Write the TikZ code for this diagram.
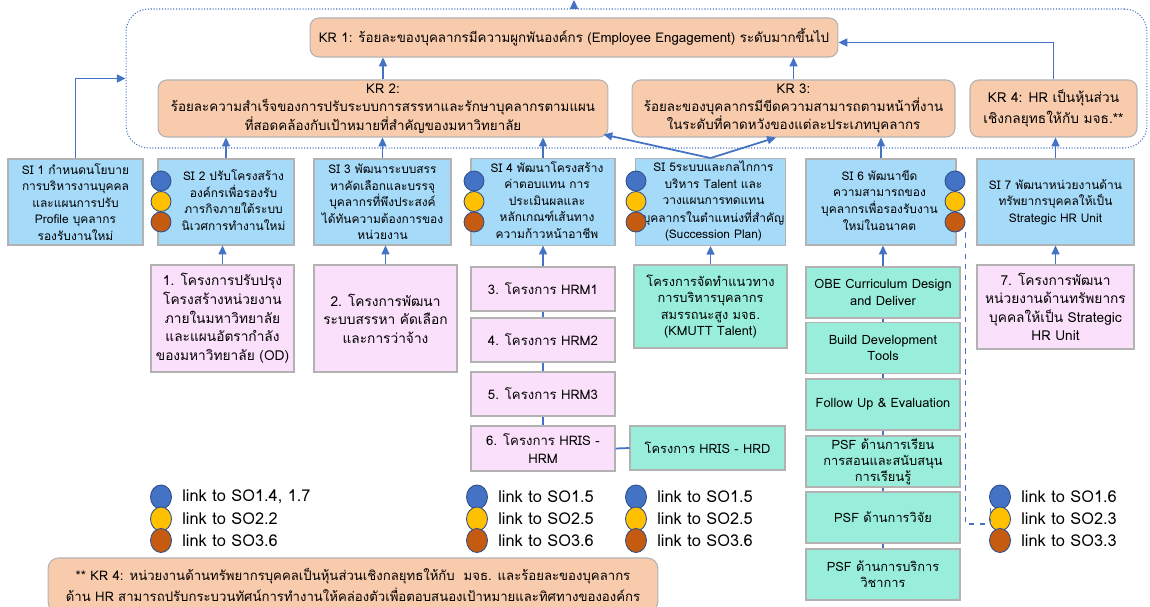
\documentclass[tikz,border=0pt]{standalone}
\usepackage{fontspec}
\setmainfont[Script=Thai]{Loma}
\usetikzlibrary{arrows.meta,shapes.geometric}
\definecolor{krfill}{RGB}{248,203,173}
\definecolor{sifill}{RGB}{166,218,249}
\definecolor{prjfill}{RGB}{251,224,251}
\definecolor{grnfill}{RGB}{152,238,219}
\definecolor{linkblue}{RGB}{68,114,196}
\definecolor{dotyellow}{RGB}{255,192,0}
\definecolor{dotorange}{RGB}{197,90,17}
\definecolor{edgegray}{RGB}{178,178,178}
% text of a box beside the dots, moved a little to one side
\newcommand{\sitxt}[2]{\hspace*{#1}\begin{tabular}{@{}c@{}}#2\end{tabular}}
\tikzset{
  box/.style={draw=edgegray, line width=0.6pt, align=center, inner sep=1pt, font=\fontsize{7.5}{10.4}\selectfont},
  krbox/.style={box, fill=krfill, rounded corners=5pt, font=\fontsize{7.6}{10.4}\selectfont},
  sibox/.style={box, fill=sifill, minimum height=1.72cm, font=\fontsize{6.8}{9.4}\selectfont},
  prjbox/.style={box, fill=prjfill},
  grnbox/.style={box, fill=grnfill, minimum width=3.08cm, minimum height=1.02cm, font=\fontsize{7.3}{9.2}\selectfont},
  link/.style={linkblue, line width=1pt, -{Triangle[length=5pt,width=4.5pt]}},
  joint/.style={linkblue, line width=1pt},
  sodot/.style={circle, draw=linkblue!70!black, line width=0.5pt, inner sep=0pt, minimum size=0.4cm},
  legdot/.style={ellipse, draw=linkblue!70!black, line width=0.5pt, inner sep=0pt, minimum width=0.42cm, minimum height=0.48cm},
  legtext/.style={anchor=west, inner sep=0pt, font=\fontsize{9.3}{11}\selectfont}
}
\begin{document}
\begin{tikzpicture}[x=0.02cm,y=-0.02cm]
\useasboundingbox (0,0) rectangle (1150,607);
% key results
\node[draw=linkblue, densely dotted, line width=0.6pt, rounded corners=0.45cm, minimum width=20.42cm, minimum height=2.78cm] (frame) at (636.5,78.5) {};
\node[krbox, minimum width=10.56cm, minimum height=0.78cm] (kr1) at (574,37.5) {KR 1: ร้อยละของบุคลากรมีความผูกพันองค์กร (Employee Engagement) ระดับมากขึ้นไป};
\node[krbox, minimum width=9cm, minimum height=1.14cm] (kr2) at (383,108.5) {KR 2:\\ร้อยละความสำเร็จของการปรับระบบการสรรหาและรักษาบุคลากรตามแผน\\ที่สอดคล้องกับเป้าหมายที่สำคัญของมหาวิทยาลัย};
\node[krbox, minimum width=6.46cm, minimum height=1.14cm] (kr3) at (793.5,108.5) {KR 3:\\ร้อยละของบุคลากรมีขีดความสามารถตามหน้าที่งาน\\ในระดับที่คาดหวังของแต่ละประเภทบุคลากร};
\node[krbox, minimum width=3.34cm, minimum height=1.14cm, font=\fontsize{7.8}{11.5}\selectfont] (kr4) at (1053.5,108.5) {KR 4: HR เป็นหุ้นส่วน\\เชิงกลยุทธให้กับ มจธ.**};
\coordinate (top) at (574,0);
% strategic initiatives
\node[sibox, minimum width=2.7cm] (si1) at (75.5,202) {SI 1 กำหนดนโยบาย\\การบริหารงานบุคคล\\และแผนการปรับ\\Profile บุคลากร\\รองรับงานใหม่};
\node[sibox, minimum width=2.72cm] (si2) at (226,202) {\sitxt{0.3cm}{SI 2 ปรับโครงสร้าง\\องค์กรเพื่อรองรับ\\ภารกิจภายใต้ระบบ\\นิเวศการทำงานใหม่}};
\node[sibox, minimum width=2.74cm] (si3) at (382.5,202) {SI 3 พัฒนาระบบสรร\\หาคัดเลือกและบรรจุ\\บุคลากรที่พึงประสงค์\\ได้ทันความต้องการของ\\หน่วยงาน};
\node[sibox, minimum width=2.88cm] (si4) at (543,202) {\sitxt{0.16cm}{SI 4 พัฒนาโครงสร้าง\\ค่าตอบแทน การ\\ประเมินผลและ\\หลักเกณฑ์เส้นทาง\\ความก้าวหน้าอาชีพ}};
\node[sibox, minimum width=2.98cm] (si5) at (710.5,202) {\sitxt{0.12cm}{SI 5ระบบและกลไกการ\\บริหาร Talent และ\\วางแผนการทดแทน\\บุคลากรในตำแหน่งที่สำคัญ\\(Succession Plan)}};
\node[sibox, minimum width=3cm] (si6) at (881,202) {\sitxt{-0.06cm}{SI 6 พัฒนาขีด\\ความสามารถของ\\บุคลากรเพื่อรองรับงาน\\ใหม่ในอนาคต}};
\node[sibox, minimum width=3.14cm] (si7) at (1055.5,202) {SI 7 พัฒนาหน่วยงานด้าน\\ทรัพยากรบุคคลให้เป็น\\Strategic HR Unit};
\foreach \n/\x in {si2/161, si4/474, si5/636, si6/955}{
  \node[sodot, fill=linkblue] (\n-b) at (\x,181) {};
  \node[sodot, fill=dotyellow] (\n-y) at (\x,201.5) {};
  \node[sodot, fill=dotorange] (\n-o) at (\x,222) {};
}
% projects
\node[prjbox, minimum width=2.86cm, minimum height=2.14cm, font=\fontsize{7.8}{10.6}\selectfont] (p1) at (222.5,318.5) {1. โครงการปรับปรุง\\โครงสร้างหน่วยงาน\\ภายในมหาวิทยาลัย\\และแผนอัตรากำลัง\\ของมหาวิทยาลัย (OD)};
\node[prjbox, minimum width=2.86cm, minimum height=2.14cm, font=\fontsize{7.8}{10.6}\selectfont] (p2) at (385.5,318.5) {2. โครงการพัฒนา\\ระบบสรรหา คัดเลือก\\และการว่าจ้าง};
\node[prjbox, minimum width=2.88cm, minimum height=0.88cm] (hrm1) at (543,289) {3. โครงการ HRM1};
\node[prjbox, minimum width=2.88cm, minimum height=0.88cm] (hrm2) at (543,340) {4. โครงการ HRM2};
\node[prjbox, minimum width=2.88cm, minimum height=0.88cm] (hrm3) at (543,394) {5. โครงการ HRM3};
\node[prjbox, minimum width=2.88cm, minimum height=0.9cm] (hris) at (543,448.5) {6. โครงการ HRIS -\\HRM};
\node[grnbox, minimum width=3.1cm, minimum height=0.88cm] (hrd) at (707.5,448) {โครงการ HRIS - HRD};
\node[grnbox, minimum width=3.06cm, minimum height=1.66cm] (talent) at (710.5,306.5) {โครงการจัดทำแนวทาง\\การบริหารบุคลากร\\สมรรถนะสูง มจธ.\\(KMUTT Talent)};
\node[grnbox] (obe) at (883,292.5) {OBE Curriculum Design\\and Deliver};
\node[grnbox] (build) at (883,348) {Build Development\\Tools};
\node[grnbox] (follow) at (883,404.5) {Follow Up \& Evaluation};
\node[grnbox] (psf1) at (883,461.5) {PSF ด้านการเรียน\\การสอนและสนับสนุน\\การเรียนรู้};
\node[grnbox] (psf2) at (883,517.5) {PSF ด้านการวิจัย};
\node[grnbox] (psf3) at (883,574.5) {PSF ด้านการบริการ\\วิชาการ};
\node[prjbox, minimum width=3.14cm, minimum height=1.68cm, font=\fontsize{7.8}{10.4}\selectfont] (p7) at (1055.5,307) {7. โครงการพัฒนา\\หน่วยงานด้านทรัพยากร\\บุคคลให้เป็น Strategic\\HR Unit};
% legends
\foreach \n/\x/\a/\b/\c in {la/161/{1.4, 1.7}/2.2/3.6, lb/477/1.5/2.5/3.6, lc/636/1.5/2.5/3.6, ld/1000/1.6/2.3/3.3}{
  \node[legdot, fill=linkblue] (\n-b) at (\x,497) {};
  \node[legdot, fill=dotyellow] (\n-y) at (\x,519) {};
  \node[legdot, fill=dotorange] (\n-o) at (\x,540.5) {};
  \node[legtext] (\n-tb) at (\x+21,497) {link to SO\a};
  \node[legtext] (\n-ty) at (\x+21,519) {link to SO\b};
  \node[legtext] (\n-to) at (\x+21,540.5) {link to SO\c};
}
\node[box, fill=krfill, rounded corners=6pt, minimum width=12.2cm, minimum height=1.08cm, font=\fontsize{7.5}{11.8}\selectfont] (note) at (353,585) {** KR 4: หน่วยงานด้านทรัพยากรบุคคลเป็นหุ้นส่วนเชิงกลยุทธให้กับ~ มจธ. และร้อยละของบุคลากร\\ด้าน HR สามารถปรับกระบวนทัศน์การทำงานให้คล่องตัวเพื่อตอบสนองเป้าหมายและทิศทางขององค์กร};
% connectors
\draw[link] (kr1.north |- frame.north) -- (top);
\draw[link] (kr2.north) -- (kr2.north |- kr1.south);
\draw[link] (kr3.north) -- (kr3.north |- kr1.south);
\draw[link] (kr4.north) |- ([yshift=-0.1cm]kr1.east);
\draw[link] (si1.north) |- (frame.west);
\foreach \s/\k in {si2/kr2, si3/kr2, si4/kr2, si6/kr3, si7/kr4}
  \draw[link] (\s.north) -- (\s.north |- \k.south);
\draw[link] (si5.north) -- ([xshift=-0.1cm,yshift=0.06cm]kr2.south east);
\draw[link] (si5.north) -- ([xshift=-0.35cm]kr3.south);
\foreach \p/\s in {p1/si2, p2/si3, hrm1/si4, talent/si5, obe/si6, p7/si7}
  \draw[link] (\p.north) -- (\p.north |- \s.south);
\foreach \a/\b in {hrm1/hrm2, hrm2/hrm3, hrm3/hris, obe/build, build/follow, follow/psf1, psf1/psf2, psf2/psf3}
  \draw[joint] (\a) -- (\b);
\draw[joint] (hris.east) -- (hrd.west);
\draw[linkblue, dashed, line width=0.6pt] (si6-o.south -| si6-o.east) |- ([xshift=0.02cm,yshift=-0.1cm]ld-y.west) -- ([xshift=0.02cm,yshift=0.22cm]ld-y.west);
\end{tikzpicture}
\end{document}
